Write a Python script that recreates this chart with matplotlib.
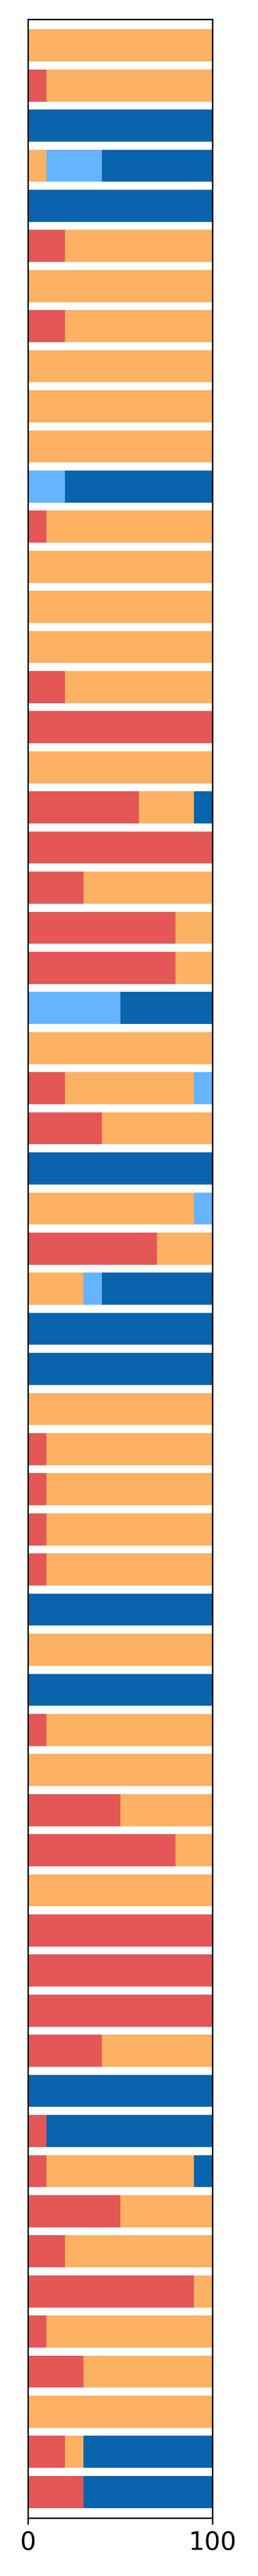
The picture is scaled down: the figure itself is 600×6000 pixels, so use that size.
import numpy as np
import matplotlib
matplotlib.use("Agg")
import matplotlib.pyplot as plt

# shares per row, listed top to bottom
red = [0, 10, 0, 0, 0, 20, 0, 20, 0, 0,
       0, 0, 10, 0, 0, 0, 20, 100, 0, 60,
       100, 30, 80, 80, 0, 0, 20, 40, 0, 0,
       70, 0, 0, 0, 0, 10, 10, 10, 10, 0,
       0, 0, 10, 0, 50, 80, 0, 100, 100, 100,
       40, 0, 10, 10, 50, 20, 90, 10, 30, 0,
       20, 30]
orange = [100, 90, 0, 10, 0, 80, 100, 80, 100, 100,
          100, 0, 90, 100, 100, 100, 80, 0, 100, 30,
          0, 70, 20, 20, 0, 100, 70, 60, 0, 90,
          30, 30, 0, 0, 100, 90, 90, 90, 90, 0,
          100, 0, 90, 100, 50, 20, 100, 0, 0, 0,
          60, 0, 0, 80, 50, 80, 10, 90, 70, 100,
          10, 0]
light_blue = [0, 0, 0, 30, 0, 0, 0, 0, 0, 0,
              0, 20, 0, 0, 0, 0, 0, 0, 0, 0,
              0, 0, 0, 0, 50, 0, 10, 0, 0, 10,
              0, 10, 0, 0, 0, 0, 0, 0, 0, 0,
              0, 0, 0, 0, 0, 0, 0, 0, 0, 0,
              0, 0, 0, 0, 0, 0, 0, 0, 0, 0,
              0, 0]
blue = [0, 0, 100, 60, 100, 0, 0, 0, 0, 0,
        0, 80, 0, 0, 0, 0, 0, 0, 0, 10,
        0, 0, 0, 0, 50, 0, 0, 0, 100, 0,
        0, 60, 100, 100, 0, 0, 0, 0, 0, 100,
        0, 100, 0, 0, 0, 0, 0, 0, 0, 0,
        0, 100, 90, 10, 0, 0, 0, 0, 0, 0,
        70, 70]

series = [red, orange, light_blue, blue]
colors = ["#e45756", "#fdb163", "#66b3ff", "#0a64ad"]

y = np.arange(len(red))
height = 0.8

fig = plt.figure(figsize=(2, 20), dpi=300)
ax = fig.add_axes([0.1083, 0.0225, 0.7155, 0.97])

left = np.zeros(len(red))
for values, color in zip(series, colors):
    values = np.array(values, dtype=float)
    ax.barh(y, values, height, left=left, color=color, edgecolor="none", linewidth=0)
    left += values

ax.set_xlim(0, 100)
ax.set_xticks([0, 100])
ax.set_ylim(len(red) - 1 + 0.65, -0.65)
ax.set_yticks([])
ax.tick_params(axis="x", labelsize=14)

fig.savefig("out.png", dpi=300)
